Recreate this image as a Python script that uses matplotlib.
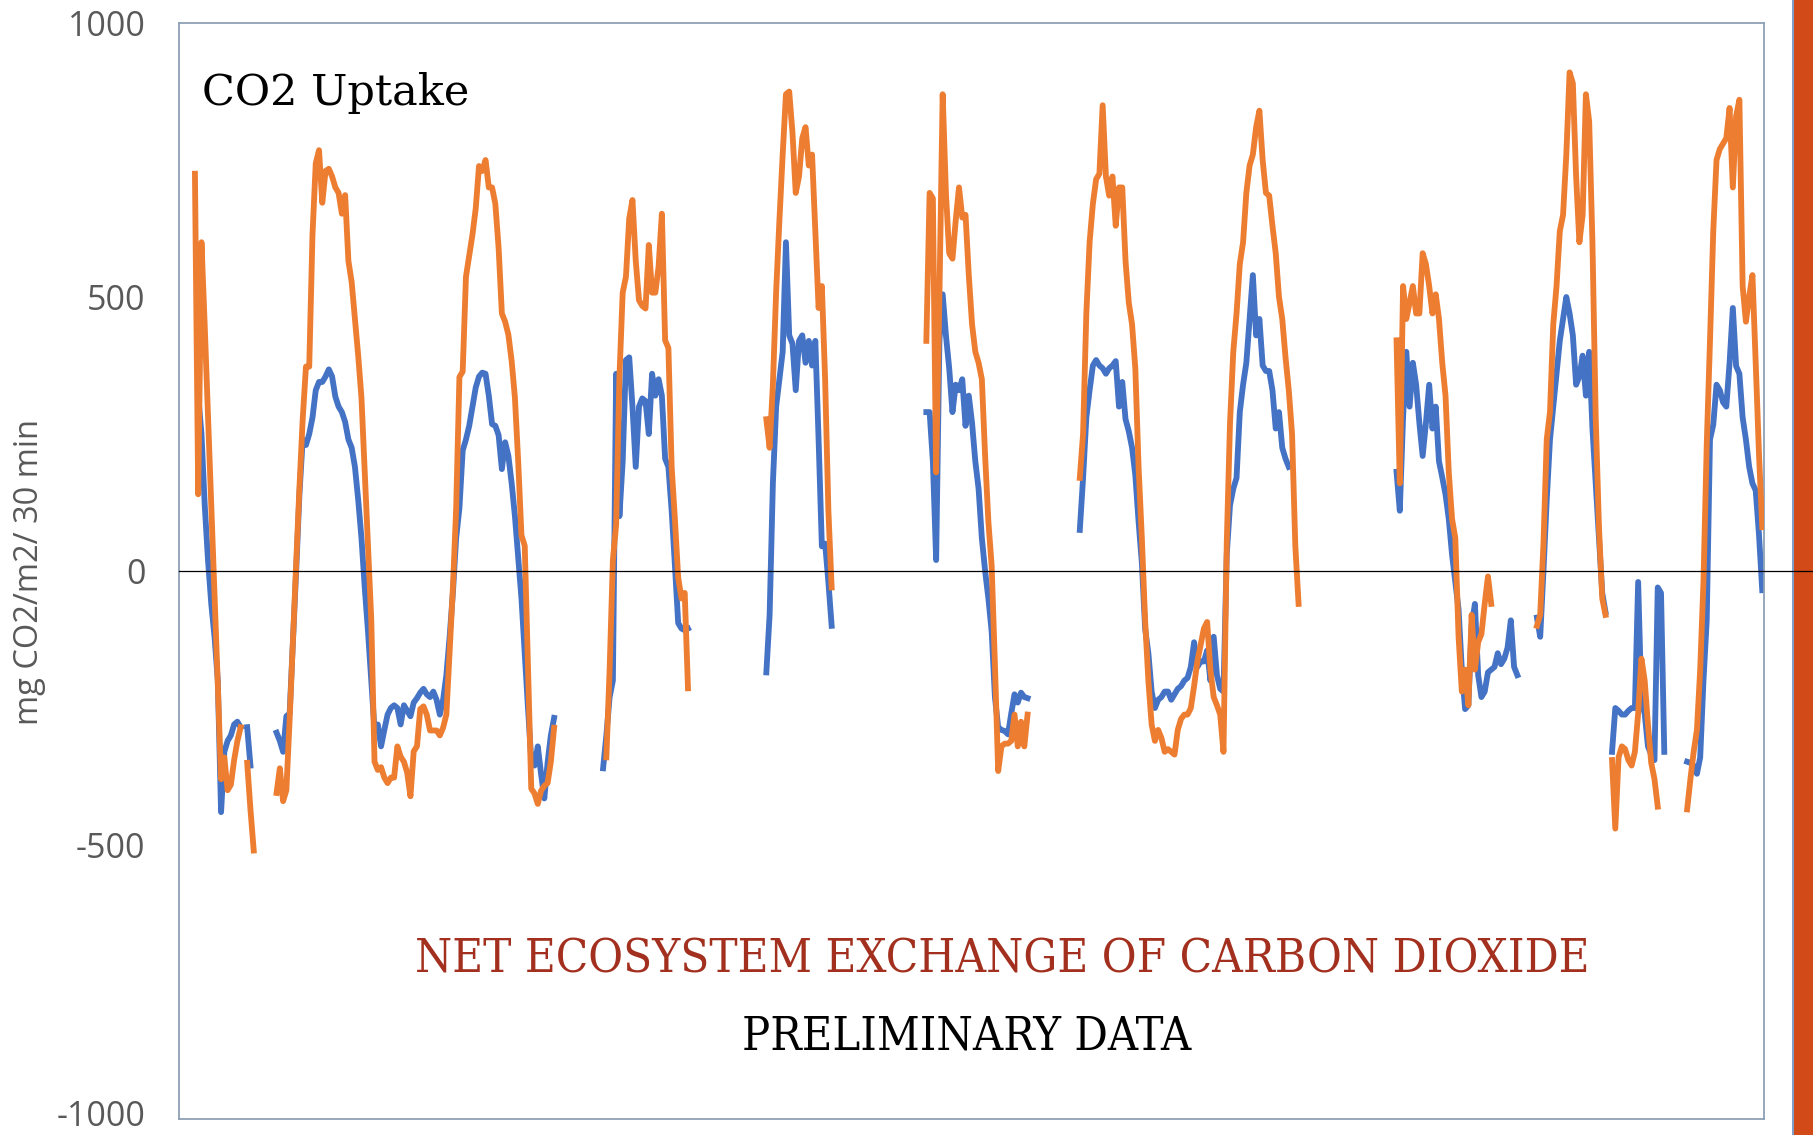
import matplotlib
matplotlib.use("Agg")
import matplotlib.pyplot as plt
import numpy as np
from matplotlib.patches import Rectangle
from matplotlib.transforms import ScaledTranslation

nan = np.nan

# half-hourly net ecosystem exchange, mg CO2/m2/30 min (gaps = missing records)
orange_nee = [
    725, 140, 600, 447, 284, 120, -43, -207, -380, -340,
    -400, -390, -345, -310, -285, nan, -350, -435, -510, nan,
    nan, nan, nan, nan, nan, -405, -360, -420, -400, -271,
    -127, 13, 152, 277, 373, 373, 614, 744, 768, 672,
    730, 734, 720, 700, 690, 652, 686, 566, 527, 460,
    393, 316, 181, 46, -89, -348, -363, -358, -377, -387,
    -377, -377, -320, -339, -348, -368, -411, -329, -320, -252,
    -247, -262, -291, -291, -291, -300, -286, -262, -146, -31,
    114, 354, 364, 537, 575, 614, 662, 739, 730, 750,
    700, 700, 670, 590, 470, 455, 431, 383, 316, 200,
    65, 46, -175, -397, -406, -425, -401, -392, -387, -348,
    -286, nan, nan, nan, nan, nan, nan, nan, nan, nan,
    nan, nan, nan, nan, nan, nan, -340, -180, 20, 85,
    354, 508, 537, 643, 677, 566, 494, 484, 479, 595,
    508, 508, 556, 652, 421, 407, 190, 94, -12, -50,
    -40, -214, nan, nan, nan, nan, nan, nan, nan, nan,
    nan, nan, nan, nan, nan, nan, nan, nan, nan, nan,
    nan, nan, nan, nan, nan, 277, 225, 340, 510, 640,
    760, 870, 875, 800, 690, 720, 790, 810, 740, 760,
    620, 480, 520, 350, 110, -30, nan, nan, nan, nan,
    nan, nan, nan, nan, nan, nan, nan, nan, nan, nan,
    nan, nan, nan, nan, nan, nan, nan, nan, nan, nan,
    nan, nan, nan, nan, 420, 690, 680, 180, 500, 870,
    690, 580, 570, 640, 700, 645, 650, 540, 450, 400,
    380, 350, 210, 90, 10, -170, -365, -320, -315, -315,
    -310, -262, -320, -275, -320, -262, nan, nan, nan, nan,
    nan, nan, nan, nan, nan, nan, nan, nan, nan, nan,
    nan, 170, 250, 470, 600, 670, 715, 725, 850, 720,
    685, 720, 630, 700, 700, 566, 490, 450, 370, 190,
    60, -90, -200, -280, -310, -290, -305, -330, -325, -330,
    -335, -290, -270, -262, -262, -250, -210, -165, -135, -105,
    -93, -180, -230, -245, -262, -330, 50, 270, 400, 470,
    560, 600, 690, 740, 760, 810, 840, 750, 690, 685,
    630, 580, 500, 460, 390, 330, 250, 46, -60, nan,
    nan, nan, nan, nan, nan, nan, nan, nan, nan, nan,
    nan, nan, nan, nan, nan, nan, nan, nan, nan, nan,
    nan, nan, nan, nan, nan, nan, nan, nan, 421, 160,
    520, 460, 490, 520, 470, 470, 580, 560, 520, 470,
    505, 460, 380, 320, 180, 95, 60, -120, -220, -180,
    -245, -80, -180, -130, -115, -60, -10, -60, nan, nan,
    nan, nan, nan, nan, nan, nan, nan, nan, nan, nan,
    nan, -100, -80, 50, 240, 290, 450, 520, 620, 650,
    760, 910, 890, 720, 600, 650, 870, 820, 600, 280,
    80, -50, -80, nan, -345, -470, -340, -320, -325, -345,
    -355, -330, -260, -160, -200, -280, -350, -380, -430, nan,
    nan, nan, nan, nan, nan, nan, nan, -435, -380, -330,
    -290, -180, -20, 230, 420, 620, 750, 770, 780, 790,
    845, 700, 830, 860, 520, 455, 500, 540, 380, 214, 80,
]

blue_nee = [
    nan, 320, 250, 120, 20, -60, -120, -200, -440, -330,
    -310, -300, -280, -275, -285, nan, -285, -355, nan, nan,
    nan, nan, nan, nan, nan, -295, -310, -330, -265, -260,
    -130, 0, 140, 240, 230, 250, 280, 330, 345, 345,
    355, 368, 355, 318, 300, 290, 272, 240, 225, 190,
    130, 60, -30, -110, -200, -290, -280, -320, -290, -262,
    -250, -245, -250, -280, -245, -255, -265, -240, -232, -222,
    -215, -225, -230, -220, -235, -262, -235, -190, -120, -40,
    60, 115, 220, 240, 265, 300, 335, 355, 362, 360,
    320, 268, 265, 248, 186, 235, 210, 160, 100, 25,
    -50, -150, -250, -345, -355, -320, -370, -415, -350, -300,
    -268, nan, nan, nan, nan, nan, nan, nan, nan, nan,
    nan, nan, nan, nan, nan, -360, -300, -230, -200, 360,
    100, 200, 385, 390, 300, 190, 300, 315, 310, 250,
    360, 320, 350, 320, 205, 190, 110, 10, -95, -105,
    -108, -105, nan, nan, nan, nan, nan, nan, nan, nan,
    nan, nan, nan, nan, nan, nan, nan, nan, nan, nan,
    nan, nan, nan, nan, nan, -185, -80, 160, 300, 350,
    400, 600, 430, 415, 330, 420, 430, 380, 420, 375,
    420, 240, 45, 50, -20, -100, nan, nan, nan, nan,
    nan, nan, nan, nan, nan, nan, nan, nan, nan, nan,
    nan, nan, nan, nan, nan, nan, nan, nan, nan, nan,
    nan, nan, nan, nan, 290, 290, 200, 20, 420, 505,
    430, 370, 290, 340, 330, 350, 265, 320, 270, 200,
    150, 60, 0, -50, -110, -230, -285, -290, -292, -298,
    -260, -225, -240, -222, -230, -232, nan, nan, nan, nan,
    nan, nan, nan, nan, nan, nan, nan, nan, nan, nan,
    nan, 75, 170, 280, 330, 375, 385, 375, 370, 360,
    370, 375, 383, 300, 345, 277, 255, 225, 175, 90,
    15, -105, -150, -220, -250, -235, -230, -220, -220, -235,
    -225, -215, -210, -200, -195, -175, -130, -175, -165, -165,
    -145, -200, -120, -190, -215, -220, 30, 120, 150, 170,
    290, 340, 380, 460, 540, 430, 460, 375, 365, 365,
    330, 260, 290, 225, 205, 190, nan, nan, nan, nan,
    nan, nan, nan, nan, nan, nan, nan, nan, nan, nan,
    nan, nan, nan, nan, nan, nan, nan, nan, nan, nan,
    nan, nan, nan, nan, nan, nan, nan, nan, 181, 110,
    280, 400, 300, 380, 340, 270, 210, 270, 340, 260,
    300, 200, 171, 140, 95, 30, -20, -70, -180, -252,
    -245, -100, -60, -190, -230, -220, -185, -180, -175, -150,
    -170, -160, -140, -90, -175, -190, nan, nan, nan, nan,
    nan, -85, -120, 0, 130, 240, 300, 360, 420, 460,
    500, 470, 430, 340, 355, 393, 320, 400, 260, 160,
    60, -40, -75, nan, -330, -250, -255, -262, -262, -255,
    -250, -250, -20, -240, -260, -320, -335, -345, -30, -40,
    -330, nan, nan, nan, nan, nan, nan, -348, -350, -355,
    -370, -340, -200, -90, 240, 267, 340, 330, 308, 300,
    380, 480, 374, 360, 280, 240, 190, 160, 147, 67, -35,
]

y_ticks = [-1000, -500, 0, 500, 1000]

ORANGE = "#ED7D31"
BLUE = "#4472C4"
GREY = "#595959"

fig = plt.figure(figsize=(18.13, 11.35), dpi=100)
ax = fig.add_axes([0.0987, 0.0141, 0.8742, 0.9656])

ax.plot(np.arange(len(blue_nee)), blue_nee, color=BLUE, linewidth=4.2, solid_joinstyle="round", zorder=2)
ax.plot(np.arange(len(orange_nee)), orange_nee, color=ORANGE, linewidth=4.2, solid_joinstyle="round", zorder=3)

ax.set_xlim(-4.9, 480.5)
ax.set_ylim(-1000, 1000)
ax.set_xticks([])
ax.set_yticks(y_ticks)
ax.set_yticklabels([str(v) for v in y_ticks], fontfamily="Open Sans", fontsize=24.5, color=GREY)
ax.tick_params(axis="y", length=0, pad=24)
# bottom label sits on the slide edge; lift it a few pixels so it is not clipped
low = ax.get_yticklabels()[0]
low.set_transform(low.get_transform() + ScaledTranslation(0, 4 / 72, fig.dpi_scale_trans))
for sp in ax.spines.values():
    sp.set_color("#8EA0B4")
    sp.set_linewidth(1.3)

# zero line runs from the plot edge to the right side of the slide
zero_y = ax.transData.transform((0, 0))[1]
fig_y = fig.transFigure.inverted().transform((0, zero_y))[1]
fig.add_artist(plt.Line2D([0.0987, 1.0], [fig_y, fig_y], color="black", linewidth=0.9, zorder=10))

fig.text(0.016, 0.496, "mg CO2/m2/ 30 min", rotation=90, ha="center", va="center",
         fontfamily="Open Sans", fontsize=23.5, color=GREY)

fig.text(0.1116, 0.9185, "CO2 Uptake", ha="left", va="center", fontfamily="DejaVu Serif", fontsize=31, color="black")
fig.text(0.553, 0.1546, "NET ECOSYSTEM EXCHANGE OF CARBON DIOXIDE", ha="center", va="center",
         fontfamily="DejaVu Serif", fontstretch="condensed", fontsize=34, color="#A3301F")
fig.text(0.533, 0.0864, "PRELIMINARY DATA", ha="center", va="center",
         fontfamily="DejaVu Serif", fontstretch="condensed", fontsize=33.5, color="black")

# slide accent bar on the right
fig.add_artist(Rectangle((1792 / 1813, 0), 21 / 1813, 1, transform=fig.transFigure, facecolor="#D14A17",
                         edgecolor="none", zorder=5))
fig.add_artist(Rectangle((1792 / 1813, 0), 2 / 1813, 1, transform=fig.transFigure, facecolor="#7F9FC8",
                         edgecolor="none", zorder=6))

fig.savefig("out.png", dpi=100)
